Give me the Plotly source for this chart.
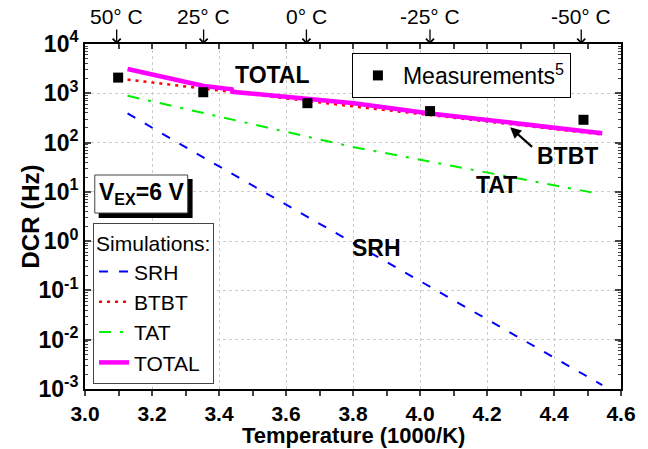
import plotly.graph_objects as go
import math

# ---- data ----
srh_x = [3.127, 3.333, 4.544]
srh_y = [390, 60, 1.2e-3]
btbt_x = [3.127, 3.803, 4.544]
btbt_y = [1900, 540, 146]
tat_x = [3.127, 3.794, 4.528]
tat_y = [890, 83, 9.3]
total_x = [3.127, 3.355, 3.438, 3.440, 3.803, 4.030, 4.544]
total_y = [3100, 1410, 1200, 1070, 630, 390, 155]
meas_x = [3.099, 3.353, 3.664, 4.030, 4.488]
meas_y = [2080, 1050, 630, 435, 290]

x_ticks = [3.0, 3.2, 3.4, 3.6, 3.8, 4.0, 4.2, 4.4, 4.6]
y_exps = [-3, -2, -1, 0, 1, 2, 3, 4]
top_temps_c = [50, 25, 0, -25, -50]
top_labels = ["50° C", "25° C", "0° C", "-25° C", "-50° C"]

FONT = "Liberation Sans, Arial, sans-serif"

fig = go.Figure()
fig.add_trace(go.Scatter(x=srh_x, y=srh_y, mode="lines", name="SRH",
                         line=dict(color="#0000ff", width=2, dash="9px,11px")))
fig.add_trace(go.Scatter(x=btbt_x, y=btbt_y, mode="lines", name="BTBT",
                         line=dict(color="#ff0000", width=2.5, dash="3px,5px")))
fig.add_trace(go.Scatter(x=tat_x, y=tat_y, mode="lines", name="TAT",
                         line=dict(color="#00ee00", width=2, dash="12px,9px,3px,9px")))
fig.add_trace(go.Scatter(x=total_x, y=total_y, mode="lines", name="TOTAL",
                         line=dict(color="#ff00ff", width=4.5)))
fig.add_trace(go.Scatter(x=meas_x, y=meas_y, mode="markers", name="Measurements<sup>5</sup>",
                         marker=dict(symbol="square", size=10, color="black"),
                         legend="legend2"))

# minor tick overlay axis for log scale
minor_vals = [m * 10 ** e for e in range(-3, 4) for m in range(2, 10)]
fig.add_trace(go.Scatter(x=[3.0], y=[1], yaxis="y2", xaxis="x2", mode="markers",
                         marker=dict(opacity=0), showlegend=False, hoverinfo="skip"))

fig.update_layout(
    width=648, height=449,
    margin=dict(l=85, r=15, t=44, b=60),
    paper_bgcolor="white", plot_bgcolor="white",
    font=dict(family=FONT, color="black"),
    xaxis=dict(range=[3.0, 4.6], tickvals=x_ticks,
               ticktext=["<b>%.1f</b>" % v for v in x_ticks],
               tickfont=dict(size=21), ticks="outside", ticklen=5, tickwidth=1.5,
               minor=dict(dtick=0.1, ticks="outside", ticklen=5, tickwidth=1.5, showgrid=False),
               showline=True, linecolor="black", linewidth=2,
               showgrid=True, gridcolor="#cccccc", griddash="dot", gridwidth=1,
               zeroline=False),
    xaxis2=dict(range=[3.0, 4.6], overlaying="x", side="top", dtick=0.1, tick0=3.0,
                ticks="inside", ticklen=5, tickwidth=1.5, showticklabels=False,
                showline=True, linecolor="black", linewidth=1.5, showgrid=False,
                zeroline=False),
    yaxis=dict(type="log", range=[-3, 4],
               tickvals=[10 ** e for e in y_exps],
               ticktext=["<b>10<sup>%d</sup></b>" % e for e in y_exps],
               tickfont=dict(size=23), ticks="inside", ticklen=6, tickwidth=1.5,
               mirror="ticks",
               showline=True, linecolor="black", linewidth=2,
               showgrid=True, gridcolor="#cccccc", griddash="dot", gridwidth=1,
               zeroline=False),
    yaxis2=dict(type="log", range=[-3, 4], overlaying="y", side="left",
                tickvals=minor_vals, ticks="inside", ticklen=3, tickwidth=1,
                mirror="ticks", showticklabels=False, showgrid=False,
                showline=True, linecolor="black", linewidth=1.5, zeroline=False),
    legend=dict(x=0.015, y=0.481, xanchor="left", yanchor="top",
                bgcolor="white", bordercolor="#444444", borderwidth=1,
                font=dict(size=21), title=dict(text="Simulations:", font=dict(size=21)),
                tracegroupgap=0, itemwidth=30),
    legend2=dict(x=0.498, y=0.974, xanchor="left", yanchor="top",
                 bgcolor="white", bordercolor="black", borderwidth=1,
                 font=dict(size=23), itemwidth=40),
    showlegend=True,
)

# axis titles
fig.add_annotation(xref="paper", yref="paper", x=0.5, y=0, yshift=-46,
                   text="<b>Temperature (1000/K)</b>", showarrow=False,
                   font=dict(size=22), xanchor="center", yanchor="middle")
fig.add_annotation(xref="paper", yref="paper", x=0, y=0.5, xshift=-55,
                   text="<b>DCR (Hz)</b>", showarrow=False, textangle=-90,
                   font=dict(size=24), xanchor="center", yanchor="middle")

# V_EX box with shadow
def px_to_paper_x(p):
    return (p - 85) / 548.0

def px_to_paper_y(p):
    return (389 - p) / 345.0

fig.add_shape(type="rect", xref="paper", yref="paper", layer="above",
              x0=px_to_paper_x(99), x1=px_to_paper_x(195),
              y0=px_to_paper_y(218), y1=px_to_paper_y(179),
              fillcolor="black", line=dict(width=0))
fig.add_shape(type="rect", xref="paper", yref="paper", layer="above",
              x0=px_to_paper_x(95), x1=px_to_paper_x(190),
              y0=px_to_paper_y(213), y1=px_to_paper_y(175),
              fillcolor="white", line=dict(color="#444444", width=1))
fig.add_annotation(xref="paper", yref="paper",
                   x=(px_to_paper_x(95) + px_to_paper_x(190)) / 2,
                   y=(px_to_paper_y(213) + px_to_paper_y(175)) / 2,
                   text="<b>V<sub>EX</sub>=6 V</b>", showarrow=False,
                   font=dict(size=23), xanchor="center", yanchor="middle")

# in-plot labels
labels = [("TOTAL", 3.56, 3.37), ("BTBT", 4.44, 1.73), ("TAT", 4.227, 1.14), ("SRH", 3.87, -0.14)]
for t, xv, yv in labels:
    fig.add_annotation(x=xv, y=yv, text="<b>%s</b>" % t, showarrow=False,
                       font=dict(size=23))

# BTBT arrow
fig.add_annotation(x=4.269, y=2.31, ax=4.339, ay=1.885, axref="x", ayref="y",
                   text="", showarrow=True, arrowhead=2, arrowsize=1, arrowwidth=2.2,
                   arrowcolor="black", standoff=0)

# top temperature markers
for tc, lab in zip(top_temps_c, top_labels):
    xv = 1000.0 / (tc + 273.15)
    fig.add_annotation(x=xv, xref="x", y=1, yref="paper", text="", showarrow=True,
                       ax=0, ay=-16, arrowhead=4, arrowsize=1.2, arrowwidth=1.3,
                       arrowcolor="black", standoff=0)
    fig.add_annotation(x=xv, xref="x", y=1, yref="paper", text=lab, showarrow=False,
                       yanchor="bottom", yshift=14, font=dict(size=21))

fig.write_html("out.html")
